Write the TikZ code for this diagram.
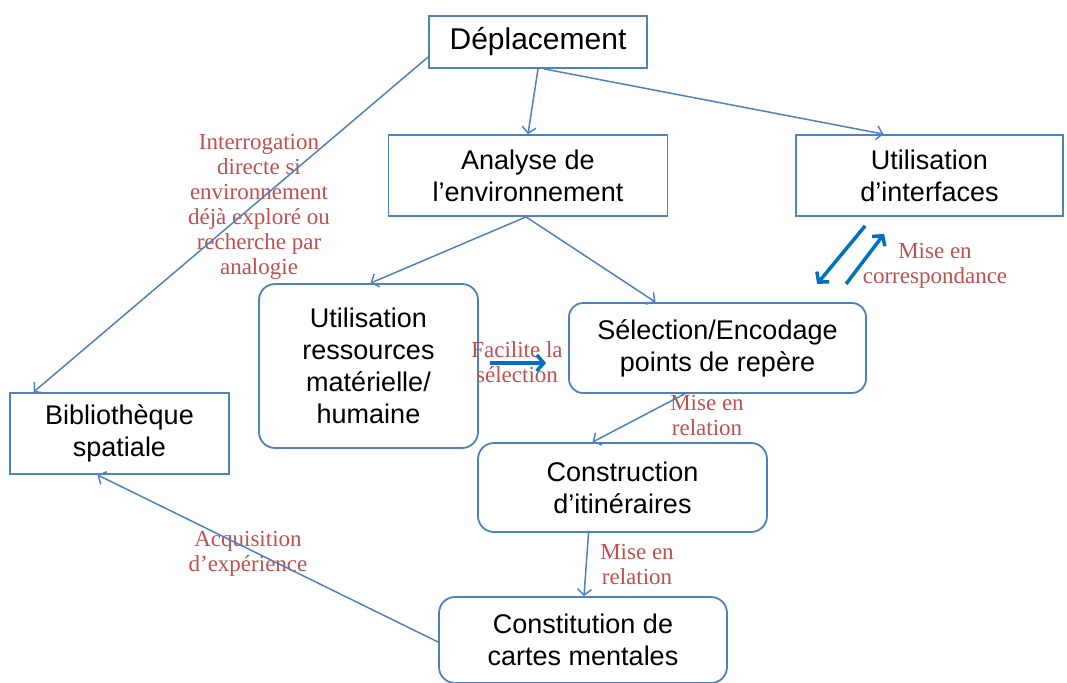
\documentclass[tikz,border=0pt]{standalone}
\usepackage{fontspec}
\setmainfont{Liberation Serif}
\setsansfont{Liberation Sans}
\usetikzlibrary{arrows.meta}
\definecolor{boxblue}{HTML}{4F81BD}
\definecolor{darkblue}{HTML}{0070C0}
\definecolor{notered}{HTML}{C0504D}

\begin{document}
\begin{tikzpicture}[x=1pt,y=-1pt,
  box/.style={draw=boxblue,line width=1.8pt,align=center,inner sep=0pt,
    font=\sffamily\fontsize{27}{32}\selectfont},
  rbox/.style={box,rounded corners=16pt},
  note/.style={text=notered,align=center,inner sep=0pt,font=\fontsize{23}{25}\selectfont},
  link/.style={draw=boxblue,line width=1.5pt,-{Straight Barb[length=6pt,width=14pt]}},
  boldlink/.style={draw=darkblue,line width=3.5pt,-{Straight Barb[length=7pt,width=16pt]}}]
\useasboundingbox (0,0) rectangle (1067,682);

% boites
\node[box,minimum width=218pt,minimum height=52pt,
  font=\sffamily\fontsize{30}{36}\selectfont] (dep) at (538,42) {Déplacement};
\node[box,minimum width=279pt,minimum height=81pt] (ana) at (528,175.5) {Analyse de\\l’environnement};
\node[box,minimum width=267pt,minimum height=81pt] (int) at (929.5,175.5) {Utilisation\\d’interfaces};
\node[rbox,minimum width=219pt,minimum height=164pt] (res) at (368.5,366) {Utilisation\\ressources\\matérielle/\\humaine};
\node[rbox,rounded corners=14pt,minimum width=297pt,minimum height=90pt] (sel) at (717.5,348) {Sélection/Encodage\\points de repère};
\node[box,minimum width=219pt,minimum height=81pt] (bib) at (119.5,433.5) {Bibliothèque\\spatiale};
\node[rbox,minimum width=289pt,minimum height=89pt] (con) at (622.5,487.5) {Construction\\d’itinéraires};
\node[rbox,minimum width=288pt,minimum height=86pt] (cst) at (583,640) {Constitution de\\cartes mentales};

% annotations
\node[note] (interro) at (259,207) {Interrogation\\directe si\\environnement\\déjà exploré ou\\recherche par\\analogie};
\node[note] (corresp) at (935,266) {Mise en\\correspondance};
\node[note] (facil) at (517,362) {Facilite la\\sélection};
\node[note] (acqui) at (248,554) {Acquisition\\d’expérience};
\node[note] (rel1) at (707,415) {Mise en\\relation};
\node[note] (rel2) at (637,564) {Mise en\\relation};

% fleches
\draw[link] (dep.south) -- (ana.north);
\draw[link] ([xshift=6pt]dep.south) -- ([xshift=-46pt]int.north);
\draw[link] ([yshift=-15pt]dep.west) -- ([xshift=-86pt]bib.north);
\draw[link] ([xshift=-2pt]ana.south) -- ([xshift=2pt]res.north);
\draw[link] ([xshift=-2pt]ana.south) -- ([xshift=-62pt]sel.north);
\draw[link] ([xshift=-33pt]sel.south) -- ([xshift=-30pt]con.north);
\draw[link] ([xshift=-34pt]con.south) -- ([xshift=1pt]cst.north);
\draw[link] ([yshift=-2pt]cst.west) -- ([xshift=-22pt]bib.south);
\draw[boldlink] ([xshift=11pt,yshift=3pt]res.east) -- ([xshift=-22pt,yshift=-15pt]sel.west);
\draw[boldlink] ([xshift=70pt,yshift=-9pt]int.south west) -- ([xshift=22pt,yshift=-67pt]int.south west);
\draw[boldlink] ([xshift=51pt,yshift=-67pt]int.south west) -- ([xshift=89pt,yshift=-17pt]int.south west);
\end{tikzpicture}
\end{document}
